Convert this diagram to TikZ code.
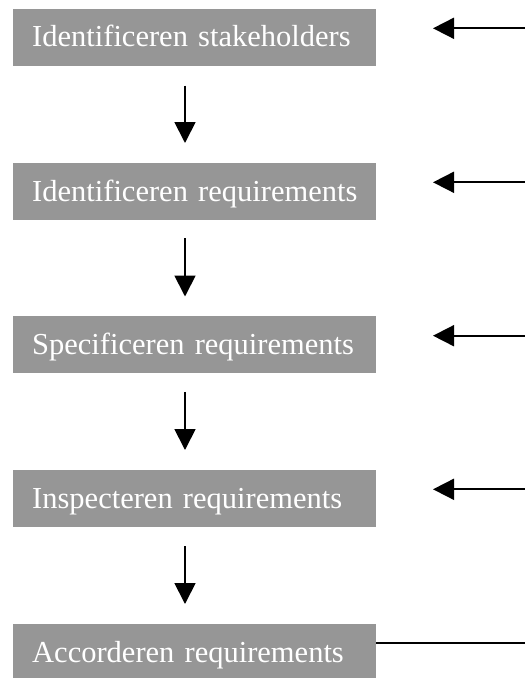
\documentclass[tikz,border=0pt]{standalone}
\usepackage{fontspec}
\setmainfont{Liberation Serif}
\usetikzlibrary{arrows.meta,calc}
\definecolor{boxgray}{RGB}{150,150,150}
\begin{document}
\begin{tikzpicture}[x=1pt,y=-1pt,
  stepbox/.style={fill=boxgray, text=white, anchor=north west,
    minimum width=363.3pt, inner xsep=19.3pt, inner ysep=0pt,
    text width=324.7pt, align=left, text height=38.4pt, text depth=18.6pt,
    font=\fontsize{30.5}{34}\selectfont},
  arr/.style={draw=black, line width=1.8pt, -{Triangle[length=21pt,width=21pt]}},
  plain/.style={draw=black, line width=1.8pt}]
\useasboundingbox (0,0) rectangle (525,678);
\node[stepbox] (b1) at (12.7,8.3) {\mbox{Identificeren stakeholders}};
\node[stepbox] (b2) at (12.7,163) {\mbox{Identificeren requirements}};
\node[stepbox] (b3) at (12.7,316) {\mbox{Specificeren requirements}};
\node[stepbox] (b4) at (12.7,470) {\mbox{Inspecteren requirements}};
\node[stepbox] (b5) at (12.7,624) {\mbox{Accorderen requirements}};
% vertical arrows
\draw[arr] ($(b1.south west)+(172.3,20)$) -- ($(b2.north west)+(172.3,-20)$);
\draw[arr] ($(b2.south west)+(172.3,18)$) -- ($(b3.north west)+(172.3,-19.5)$);
\draw[arr] ($(b3.south west)+(172.3,18.5)$) -- ($(b4.north west)+(172.3,-20)$);
\draw[arr] ($(b4.south west)+(172.3,19)$) -- ($(b5.north west)+(172.3,-20)$);
% side arrows
\coordinate (e1) at (525,28.3);  \coordinate (t1) at (433,28.3);
\coordinate (e2) at (525,182.3); \coordinate (t2) at (433,182.3);
\coordinate (e3) at (525,335.7); \coordinate (t3) at (433,335.7);
\coordinate (e4) at (525,489.3); \coordinate (t4) at (433,489.3);
\coordinate (e5) at (525,642.7);
\draw[arr] (e1) -- (t1);
\draw[arr] (e2) -- (t2);
\draw[arr] (e3) -- (t3);
\draw[arr] (e4) -- (t4);
\draw[plain] (b5.east |- e5) -- (e5);
\end{tikzpicture}
\end{document}
